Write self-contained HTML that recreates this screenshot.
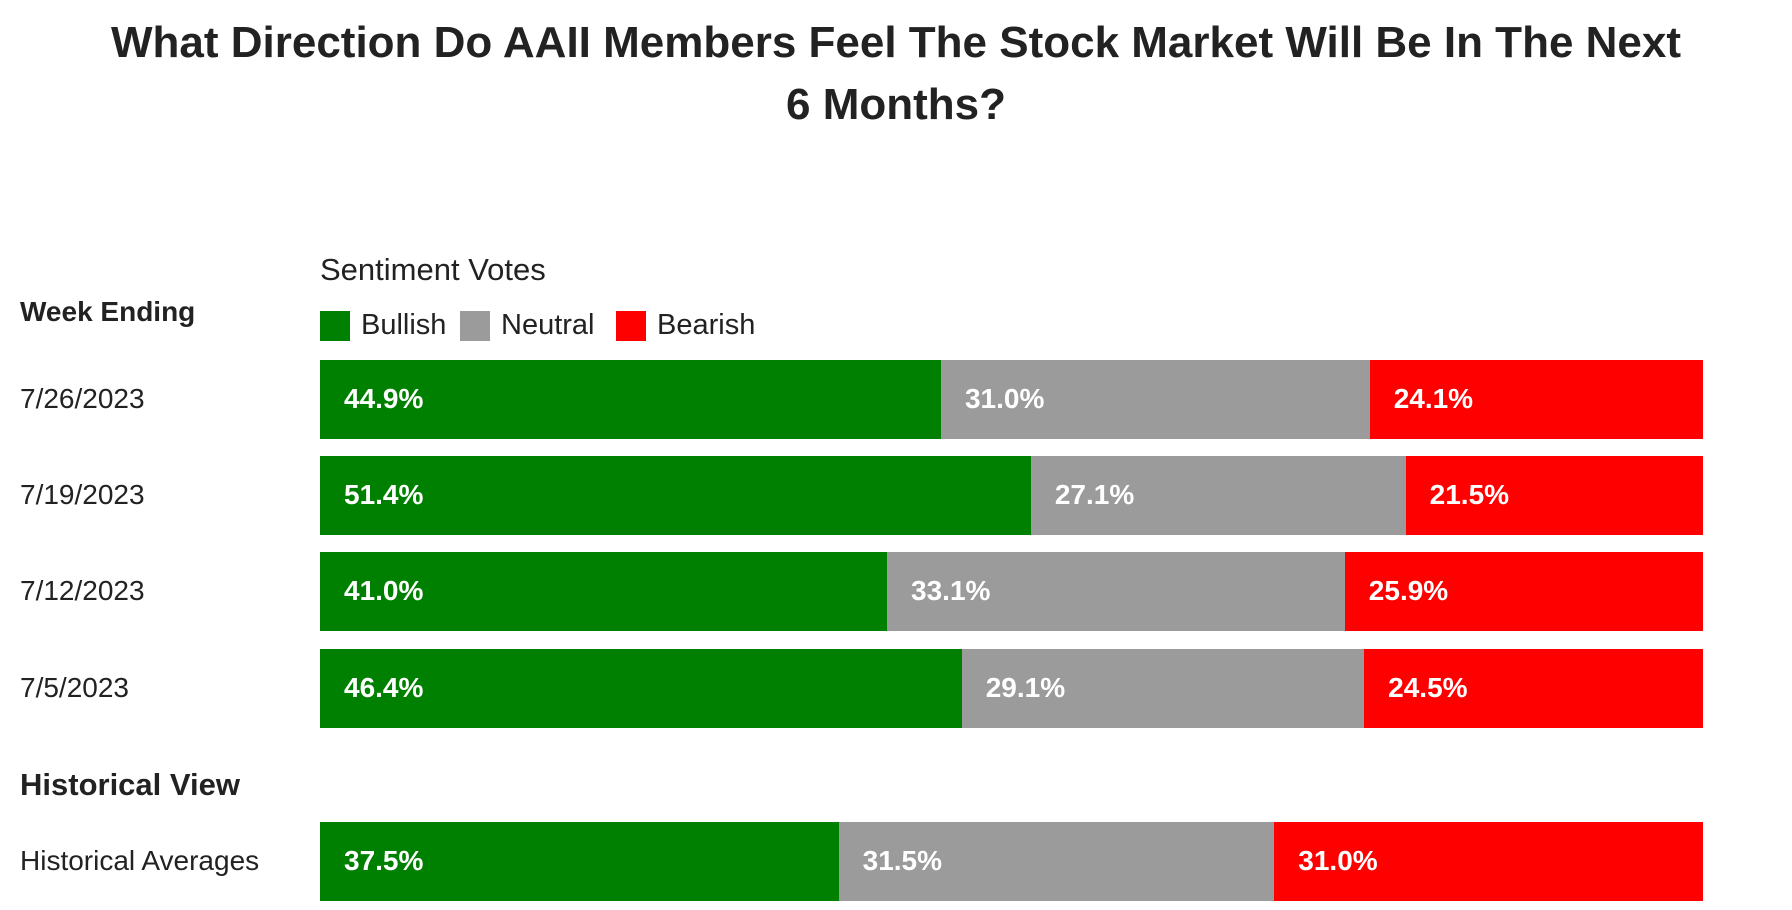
<!DOCTYPE html>
<html><head><meta charset="utf-8">
<style>
body{margin:0;width:1792px;height:910px;background:#fff;font-family:"Liberation Sans",sans-serif;overflow:hidden;position:relative;color:#222}
.t{position:absolute;white-space:nowrap}
</style></head><body>
<div class="t" style="left:0;width:1792px;top:12px;text-align:center;font-weight:bold;font-size:44px;line-height:62px;color:#222">What Direction Do AAII Members Feel The Stock Market Will Be In The Next<br>6 Months?</div>
<div class="t" style="left:320px;top:252px;font-size:31px;">Sentiment Votes</div>
<div class="t" style="left:20px;top:296px;font-size:28px;font-weight:bold;">Week Ending</div>
<div class="t" style="left:20px;top:767px;font-size:31px;font-weight:bold;">Historical View</div>
<div id="legend"></div>
<div id="chart"></div>
<script>
const categories=["7/26/2023","7/19/2023","7/12/2023","7/5/2023","Historical Averages"];
const bullish=[44.9,51.4,41.0,46.4,37.5];
const neutral=[31.0,27.1,33.1,29.1,31.5];
const bearish=[24.1,21.5,25.9,24.5,31.0];
const seriesNames=["Bullish","Neutral","Bearish"];
const colors=["#008000","#9b9b9b","#ff0000"];
const X0=320,W=1383;
const rowTops=[360,456,552,649,822];
const BH=79;
function xs(v){return v/100*W;}
const chart=document.getElementById('chart');
const series=[bullish,neutral,bearish];
categories.forEach((c,i)=>{
  const lab=document.createElement('div');
  lab.className='t';
  
  
  lab.style.cssText=`left:20px;top:${rowTops[i]+BH/2-17}px;font-size:28px;color:#222`;
  lab.textContent=c;chart.appendChild(lab);
  const total=bullish[i]+neutral[i]+bearish[i];
  let acc=0;
  series.forEach((s,j)=>{
    const v=s[i]/total*100;
    const b=document.createElement('div');
    b.className='t';
    
    
    b.style.cssText=`left:${X0+xs(acc)}px;top:${rowTops[i]}px;width:${xs(v)+0.5}px;height:${BH}px;background:${colors[j]};`;
    const tx=document.createElement('div');
    tx.className='t';
    
    
    tx.style.cssText=`left:24px;top:${BH/2-17}px;font-size:28px;font-weight:bold;color:#fff`;
    tx.textContent=s[i].toFixed(1)+'%';
    b.appendChild(tx);chart.appendChild(b);
    acc+=v;
  });
});
const lg=document.getElementById('legend');
const lx=[320,460,616];
seriesNames.forEach((n,j)=>{
  const sq=document.createElement('div');
  sq.className='t';
  
  
  sq.style.cssText=`left:${lx[j]}px;top:311px;width:30px;height:30px;background:${colors[j]}`;
  lg.appendChild(sq);
  const t=document.createElement('div');
  t.className='t';
  
  
  t.style.cssText=`left:${lx[j]+41}px;top:309px;font-size:29px;color:#222`;
  t.textContent=n;lg.appendChild(t);
});
</script>
</body></html>
